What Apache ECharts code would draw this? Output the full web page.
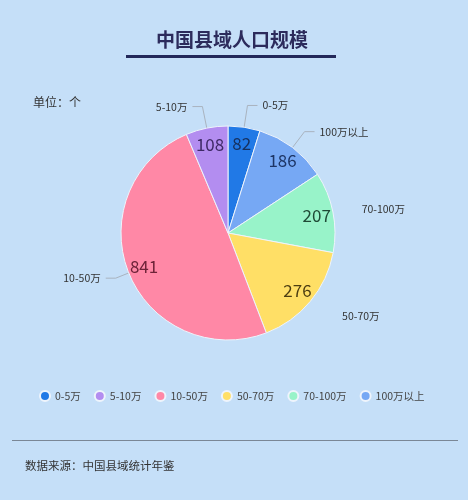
<!DOCTYPE html>
<html>
<head>
<meta charset="utf-8">
<script src="https://cdn.jsdelivr.net/npm/echarts@6/dist/echarts.min.js"></script>
<style>
  html, body { margin: 0; padding: 0; background: #c5dff8; }
  #chart { width: 468px; height: 500px; }
</style>
</head>
<body>
<div id="chart"></div>
<script>
// 数据：按饼图顺时针顺序（从12点开始）
var sliceNames = ["0-5万", "100万以上", "70-100万", "50-70万", "10-50万", "5-10万"];
var sliceValues = [82, 186, 207, 276, 841, 108];
var sliceColors = ["#2179e6", "#76a8f4", "#98f3c9", "#ffdf66", "#ff88a6", "#b38df0"];
var valueColors = ["#16305e", "#1d3566", "#1f4a36", "#4d3e12", "#6e2338", "#3e2966"];
// 图例顺序
var legendNames = ["0-5万", "5-10万", "10-50万", "50-70万", "70-100万", "100万以上"];

var FONT = "Noto Sans CJK SC";
var CENTER = [228, 233];
var RADIUS = 107;

// 引导线：上方几项拉长，右侧两项不画线
var lineLen = [22, 20, 14, 22, 14, 22];
var lineHidden = [false, false, true, true, false, false];

var pieData = [], valueData = [];
for (var i = 0; i < sliceNames.length; i++) {
    pieData.push({
        name: sliceNames[i], value: sliceValues[i],
        itemStyle: {color: sliceColors[i]},
        labelLine: {
            length: lineLen[i], length2: 10,
            lineStyle: {color: lineHidden[i] ? "rgba(0,0,0,0)" : "#a9b3bf"}
        }
    });
    valueData.push({
        name: sliceNames[i], value: sliceValues[i],
        label: {color: valueColors[i]}
    });
}

var chart = echarts.init(document.getElementById("chart"));
chart.setOption({
    backgroundColor: "#c5dff8",
    animation: false,
    title: [{
        text: "中国县域人口规模",
        left: 151, top: 25,
        textStyle: {fontFamily: FONT, fontSize: 19, fontWeight: "bold", color: "#2c2b5c"}
    }, {
        text: "单位：个",
        left: 28, top: 91,
        textStyle: {fontFamily: FONT, fontSize: 12, fontWeight: "normal", color: "#333"}
    }, {
        text: "数据来源：中国县域统计年鉴",
        left: 20, top: 455,
        textStyle: {fontFamily: FONT, fontSize: 11.5, fontWeight: "normal", color: "#333"}
    }],
    graphic: [
        {type: "rect", shape: {x: 126, y: 55, width: 210, height: 3}, style: {fill: "#23285a"}},
        {type: "rect", shape: {x: 12, y: 440, width: 446, height: 1}, style: {fill: "#7a8796"}}
    ],
    legend: {
        data: legendNames,
        top: 385, left: 34,
        icon: "circle", itemWidth: 10, itemHeight: 10, itemGap: 13,
        textStyle: {fontFamily: FONT, fontSize: 10.5, color: "#444"}
    },
    series: [{
        type: "pie",
        center: CENTER, radius: RADIUS,
        startAngle: 90, clockwise: true,
        itemStyle: {borderColor: "#eef4fc", borderWidth: 1},
        label: {position: "outside", fontFamily: FONT, fontSize: 10.5, color: "#333", formatter: "{b}"},
        data: pieData
    }, {
        // 透明环，只用来把数值标签放到靠外的位置
        type: "pie",
        center: CENTER, radius: [68, RADIUS],
        startAngle: 90, clockwise: true,
        silent: true,
        itemStyle: {color: "rgba(0,0,0,0)"},
        label: {position: "inside", fontFamily: FONT, fontSize: 17, formatter: "{c}"},
        labelLine: {show: false},
        data: valueData
    }]
});
</script>
</body>
</html>
